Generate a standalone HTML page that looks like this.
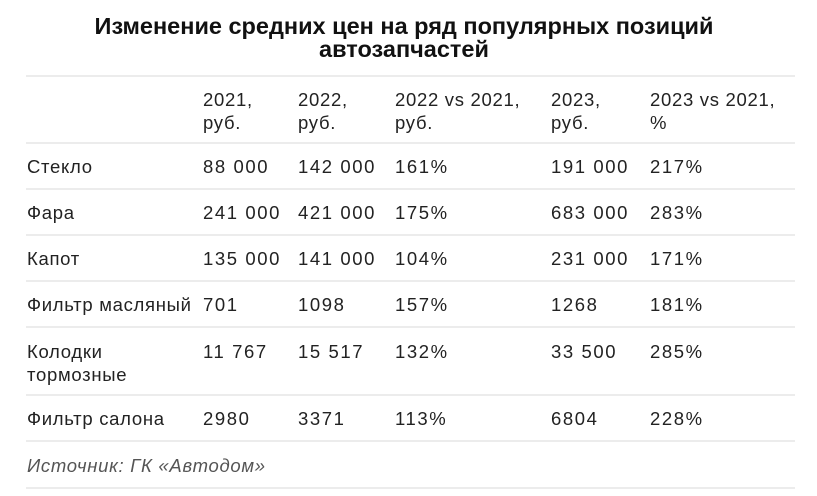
<!DOCTYPE html>
<html><head><meta charset="utf-8"><style>
body{margin:0;width:817px;height:496px;background:#fff;position:relative;overflow:hidden;font-family:"Liberation Sans",sans-serif;color:#222}
.t{position:absolute;font-size:18.5px;line-height:23px;white-space:nowrap;letter-spacing:0.7px}
.n{letter-spacing:1.6px}
.ln{position:absolute;left:26px;width:769px;height:2px;background:#ececec}
#title{position:absolute;left:0;width:808px;top:15px;text-align:center;font-weight:bold;font-size:23.5px;line-height:23px;color:#111}
</style></head><body>
<div id="title">Изменение средних цен на ряд популярных позиций<br>автозапчастей</div>
<div id="tbl"></div>
<script>
const cols=[203,298,395,551,650];
const headers=["2021,<br>руб.","2022,<br>руб.","2022 vs 2021,<br>руб.","2023,<br>руб.","2023 vs 2021,<br>%"];
const labels=["Стекло","Фара","Капот","Фильтр масляный","Колодки<br>тормозные","Фильтр салона"];
const v2021=["88 000","241 000","135 000","701","11 767","2980"];
const v2022=["142 000","421 000","141 000","1098","15 517","3371"];
const d22=["161%","175%","104%","157%","132%","113%"];
const v2023=["191 000","683 000","231 000","1268","33 500","6804"];
const d23=["217%","283%","171%","181%","285%","228%"];
const rowTops=[155,201,247,293,340,407];
const lines=[75,142,188,234,280,326,394,440,487];
const tbl=document.getElementById('tbl');
function add(html,x,y,name,cls){const d=document.createElement('div');d.className=cls||'t';d.innerHTML=html;d.style.left=x+'px';d.style.top=y+'px';


tbl.appendChild(d);return d;}
lines.forEach((y,i)=>{const d=document.createElement('div');d.className='ln';d.style.top=y+'px';


tbl.appendChild(d);});
headers.forEach((h,i)=>add(h,cols[i],88,'column-header'));
labels.forEach((l,r)=>{
 const y=rowTops[r];
 add(l,27,y,'row-label');
 [v2021,v2022,d22,v2023,d23].forEach((arr,c)=>add(arr[r],cols[c],y,'table-cell','t n'));
});
const s=add('Источник: ГК «Автодом»',27,454,'source-note');
s.style.fontStyle='italic';s.style.color='#555';
</script>
</body></html>
